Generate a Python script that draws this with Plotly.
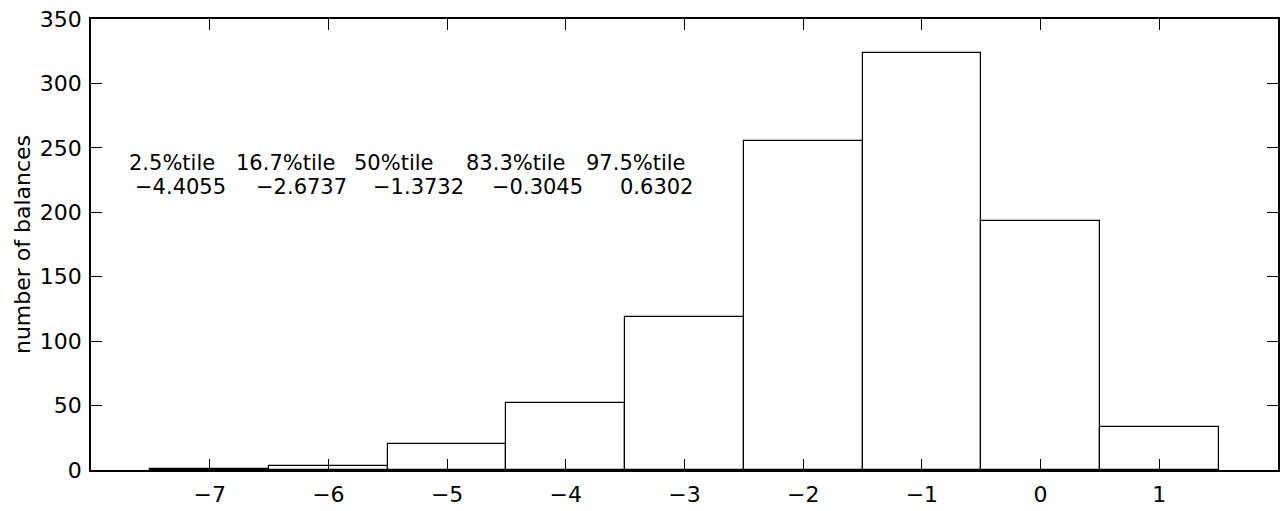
import plotly.graph_objects as go

# Histogram of balances (bin centres and counts)
bin_centers = [-7, -6, -5, -4, -3, -2, -1, 0, 1]
counts = [1, 3, 20, 52, 119, 255, 324, 193, 33]

# Axis ticks
x_ticks = [-7, -6, -5, -4, -3, -2, -1, 0, 1]
x_tick_labels = ["\u22127", "\u22126", "\u22125", "\u22124", "\u22123", "\u22122", "\u22121", "0", "1"]
y_ticks = [0, 50, 100, 150, 200, 250, 300, 350]
y_tick_labels = ["0", "50", "100", "150", "200", "250", "300", "350"]

# Percentile summary
pct_labels = ["2.5%tile", "16.7%tile", "50%tile", "83.3%tile", "97.5%tile"]
pct_values = [-4.4055, -2.6737, -1.3732, -0.3045, 0.6302]

FONT = "DejaVu Sans, Liberation Sans, Arial, sans-serif"

fig = go.Figure()
fig.add_trace(go.Bar(
    x=bin_centers,
    y=counts,
    width=1,
    marker=dict(color="white", line=dict(color="black", width=1.2)),
    showlegend=False,
))

# Column centres of the percentile table, in paper coordinates
W, L, R = 1283, 91, 1280
head_px = [172, 286, 395, 517, 637]
val_px = [181, 302, 419, 538, 657]


def fmt(v):
    s = f"{abs(v):.4f}"
    return ("\u2212" + s) if v < 0 else s


annotations = []
for lab, hx in zip(pct_labels, head_px):
    annotations.append(dict(
        text=lab, x=(hx - L) / (R - L), y=(469.7 - 163) / 450.7,
        xref="paper", yref="paper", showarrow=False,
        xanchor="center", yanchor="middle",
        font=dict(family=FONT, size=21, color="black"),
    ))
for v, vx in zip(pct_values, val_px):
    annotations.append(dict(
        text=fmt(v), x=(vx - L) / (R - L), y=(469.7 - 186.5) / 450.7,
        xref="paper", yref="paper", showarrow=False,
        xanchor="center", yanchor="middle",
        font=dict(family=FONT, size=21, color="black"),
    ))

fig.update_layout(
    width=W, height=511,
    margin=dict(l=91, r=3, t=19, b=41.3),
    paper_bgcolor="white", plot_bgcolor="white",
    font=dict(family=FONT, size=22, color="black"),
    bargap=0,
    annotations=annotations,
    xaxis=dict(
        range=[-8, 2],
        tickvals=x_ticks, ticktext=x_tick_labels,
        ticks="inside", ticklen=11, tickwidth=1, tickcolor="black",
        showline=True, linecolor="black", linewidth=1.5, mirror="ticks",
        showgrid=False, zeroline=False,
        tickfont=dict(family=FONT, size=22, color="black"),
        ticklabelstandoff=4,
    ),
    yaxis=dict(
        range=[0, 350],
        tickvals=y_ticks, ticktext=y_tick_labels,
        ticks="inside", ticklen=11, tickwidth=1, tickcolor="black",
        showline=True, linecolor="black", linewidth=1.5, mirror="ticks",
        showgrid=False, zeroline=False,
        tickfont=dict(family=FONT, size=22, color="black"),
        ticklabelstandoff=3,
        title=dict(text="number of balances", standoff=3,
                   font=dict(family=FONT, size=22, color="black")),
    ),
)

fig.write_html("out.html")
